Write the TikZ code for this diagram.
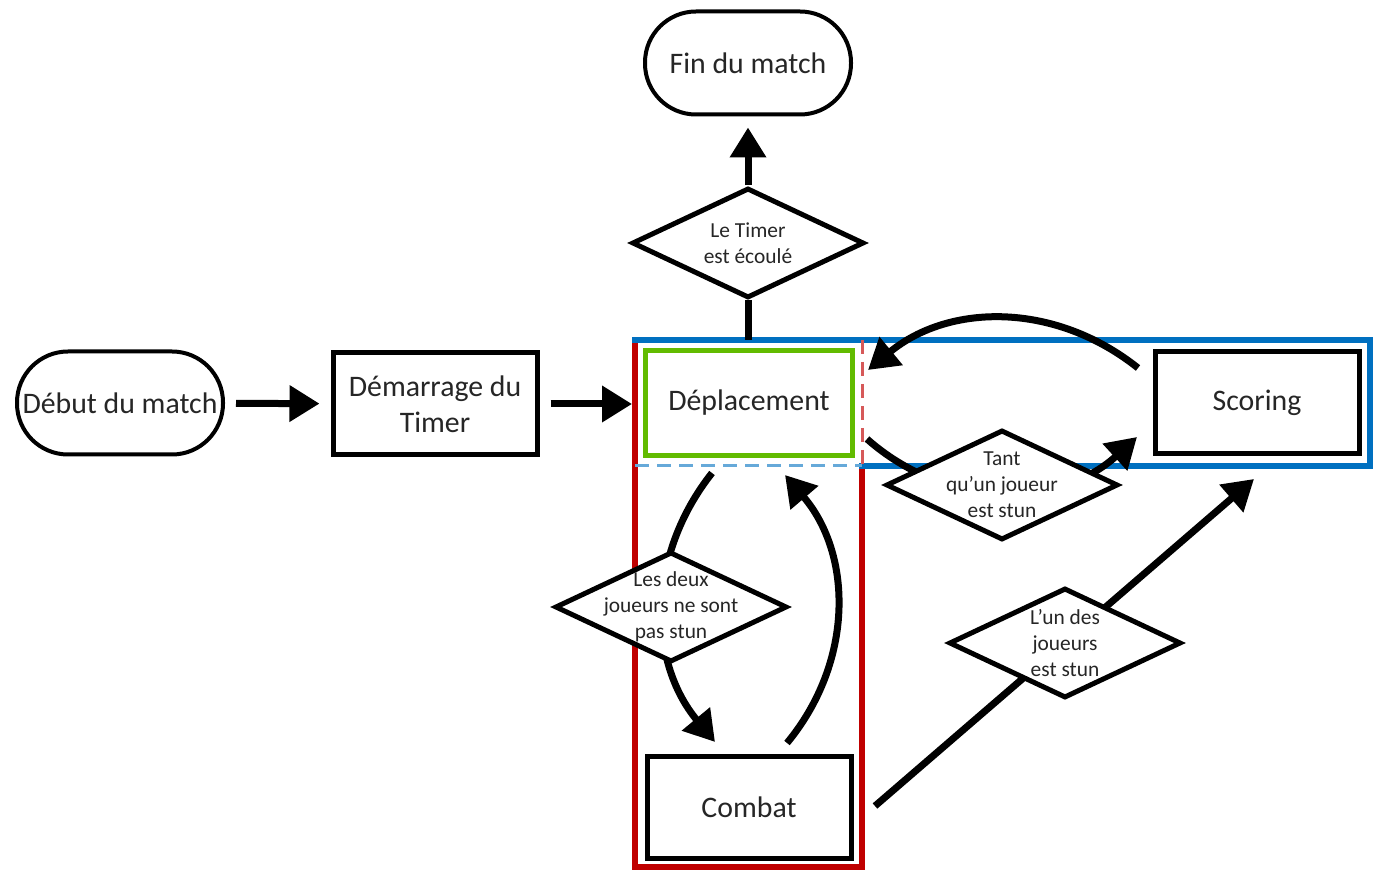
\documentclass[tikz,border=0pt]{standalone}
\usepackage{fontspec}
\setmainfont{Carlito}
\usetikzlibrary{arrows.meta, shapes.geometric, backgrounds}

\definecolor{zonered}{HTML}{C00000}
\definecolor{zoneblue}{HTML}{0070C0}
\definecolor{movegreen}{HTML}{62BB00}

\begin{document}
\begin{tikzpicture}[x=0.5pt, y=-0.5pt,
    % Define styles
    terminal/.style={rectangle, rounded corners=25.5pt, draw=black, line width=2pt, minimum width=103pt, minimum height=51.5pt, inner sep=0pt, align=center, fill=white, text=black!85, font=\fontsize{14.9}{18}\selectfont},
    stepbox/.style={rectangle, draw=black, line width=2.5pt, minimum width=102pt, minimum height=51pt, align=center, fill=white, text=black!85, font=\fontsize{14.9}{18}\selectfont},
    decision/.style={diamond, draw=black, line width=2.5pt, minimum width=116pt, minimum height=55pt, inner sep=0pt, fill=white},
    decisiontext/.style={inner sep=0pt, align=center, text=black!85, font=\fontsize{10.7}{13}\selectfont},
    flowarrow/.style={-{Triangle[length=15pt, width=17.5pt]}, line width=3.5pt},
    plainline/.style={line width=3.5pt},
    zoneline/.style={line width=3pt, line cap=rect},
    overlapline/.style={line width=1.5pt, dash pattern=on 7pt off 4pt}
  ]
  \useasboundingbox (0,0) rectangle (1377,871);

  % Start, timer and end of the match
  \node[terminal] (debut) at (120,403) {Début du match};
  \node[stepbox] (demarrage) at (435,404) {Démarrage du\\Timer};
  \node[terminal] (fin) at (748,63) {Fin du match};
  \node[decision, label={[decisiontext]center:{Le Timer\\est écoulé}}] (timer) at (748,243) {};

  % Game states
  \node[stepbox, draw=movegreen, minimum width=103.5pt, minimum height=52.5pt] (deplacement) at (749,403) {Déplacement};
  \node[stepbox] (scoring) at (1257,403) {Scoring};
  \node[stepbox] (combat) at (749,807) {Combat};

  % Conditions
  \node[decision, label={[decisiontext]center:{Les deux\\joueurs ne sont\\pas stun}}] (bothfree) at (671,607) {};
  \node[decision, label={[decisiontext]center:{Tant\\qu’un joueur\\est stun}}] (stunloop) at (1002,485) {};
  \node[decision, label={[decisiontext]center:{L’un des\\joueurs\\est stun}}] (onestun) at (1065,643) {};

  % Free ends of the curved connectors
  \coordinate (zone tl) at (635,340);
  \coordinate (zone br) at (862,867);
  \coordinate (zone er) at (1370,466);
  \coordinate (scoring out) at (1138,368);
  \coordinate (deplacement in) at (868,370);
  \coordinate (deplacement out) at (867,439);
  \coordinate (scoring in) at (1137,437);
  \coordinate (deplacement down) at (712,473);
  \coordinate (combat in) at (715,742);
  \coordinate (combat out) at (787,743);
  \coordinate (deplacement up) at (785,475);
  \coordinate (combat right) at (875,806);
  \coordinate (scoring low) at (1254,479);

  \begin{scope}[on background layer]
    % Zones
    \draw[zoneline, zonered] (zone br |- zone er) -- (zone br) -- (zone tl |- zone br) -- (zone tl);
    \draw[zoneline, zoneblue] (zone tl) -- (zone er |- zone tl) -- (zone er) -- (zone br |- zone er);
    \draw[overlapline, zoneblue!60] (zone tl |- zone er) -- (zone br |- zone er);
    \draw[overlapline, zonered!65] (zone br |- zone tl) -- (zone br |- zone er);

    % Straight connectors
    \draw[flowarrow, shorten <=5.5pt, shorten >=5.5pt] (debut) -- (demarrage);
    \draw[flowarrow, shorten <=5.5pt, shorten >=1.5pt] (demarrage) -- (demarrage -| zone tl);
    \draw[plainline] (timer) -- (timer |- zone tl);
    \draw[flowarrow, shorten >=5.5pt] (timer) -- (fin);
    \draw[flowarrow] (combat right) -- (scoring low);

    % Curved connectors
    \draw[flowarrow] (scoring out) to[bend right=39] (deplacement in);
    \draw[flowarrow] (deplacement out) to[bend right=42] (scoring in);
    \draw[flowarrow] (deplacement down) to[bend right=39] (combat in);
    \draw[flowarrow] (combat out) to[bend right=40] (deplacement up);
  \end{scope}
\end{tikzpicture}
\end{document}
